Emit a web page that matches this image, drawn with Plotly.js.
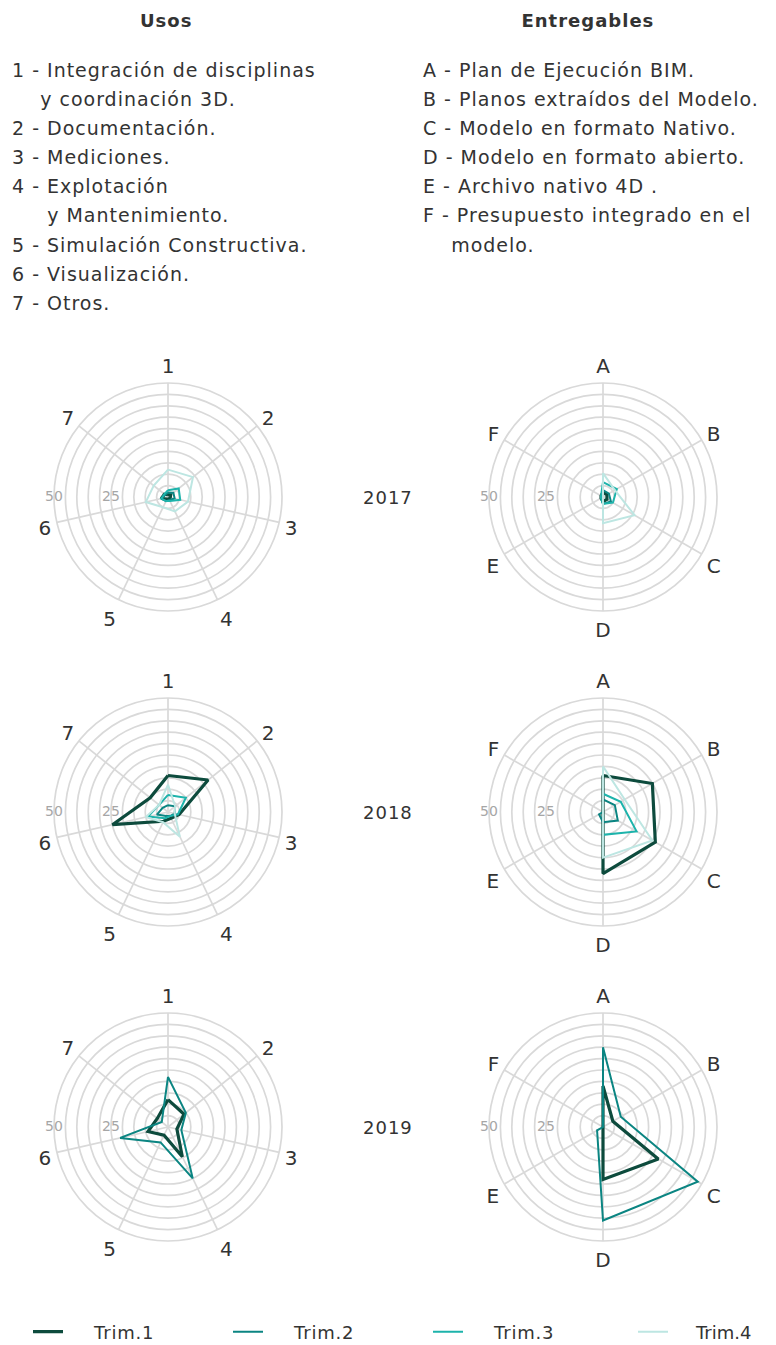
<!DOCTYPE html>
<html>
<head>
<meta charset="utf-8">
<script src="https://cdn.plot.ly/plotly-3.0.1.min.js"></script>
<style>
  html, body { margin: 0; padding: 0; background: #ffffff; }
  #chart { width: 776px; height: 1345px; }
  #chart .annotation-text { letter-spacing: 1px; }
  #chart .legendtext { letter-spacing: 0.8px; }
</style>
</head>
<body>
<div id="chart"></div>
<script>
// ---------- DATA ----------
const usosCats = ['1', '2', '3', '4', '5', '6', '7'];
const entCats = ['A', 'B', 'C', 'D', 'E', 'F'];
const series = ['Trim.1', 'Trim.2', 'Trim.3', 'Trim.4'];
const years = ['2017', '2018', '2019'];

// Usos (values 0-50)
const usos2017_t1 = [1, 1.5, 1, 1, 1, 3, 2];
const usos2017_t2 = [2, 3, 3, 1.5, 2, 3, 1.5];
const usos2017_t3 = [3, 6, 5.5, 2, 2, 3, 2];
const usos2017_t4 = [12, 14, 9, 7, 5, 10, 8];

const usos2018_t1 = [16, 22.5, 5, 3, 4.5, 25, 10];
const usos2018_t2 = [3, 4, 3, 2, 2, 5, 3];
const usos2018_t3 = [7.5, 10, 4.5, 2, 3, 9, 5];
const usos2018_t4 = [12, 4, 3, 12, 5, 10, 5];

const usos2019_t1 = [12, 9, 4, 14.5, 4, 9, 6];
const usos2019_t2 = [22, 10, 6, 25, 7.5, 21.5, 3.5];

// Entregables (values 0-50)
const ent2017_t1 = [2, 2, 2, 2, 1, 1];
const ent2017_t2 = [3, 3, 4, 3, 1, 1];
const ent2017_t3 = [6.5, 7, 5, 3, 1, 1];
const ent2017_t4 = [10.5, 6, 16, 11.5, 0, 0];

const ent2018_t1 = [16, 25, 26.5, 27, 0, 0];
const ent2018_t2 = [5.5, 6, 7.5, 4.5, 2, 0];
const ent2018_t3 = [8, 9, 17, 10, 0, 0];
const ent2018_t4 = [20, 11, 25, 20, 0, 0];

const ent2019_t1 = [18, 5, 28, 23, 0, 0];
const ent2019_t2 = [35, 9, 48, 41, 3, 0];

// radial scale: grid every 5, labels at 25 and 50
const radialGrid = [5, 10, 15, 20, 25, 30, 35, 40, 45, 50];
const radialLabelVals = [25, 50];
const radialLabelText = ['25', '50'];

const usosTitle = 'Usos';
const entTitle = 'Entregables';
const usosLines = [
  '1 - Integración de disciplinas',
  '    y coordinación 3D.',
  '2 - Documentación.',
  '3 - Mediciones.',
  '4 - Explotación',
  '     y Mantenimiento.',
  '5 - Simulación Constructiva.',
  '6 - Visualización.',
  '7 - Otros.'
];
const entLines = [
  'A - Plan de Ejecución BIM.',
  'B - Planos extraídos del Modelo.',
  'C - Modelo en formato Nativo.',
  'D - Modelo en formato abierto.',
  'E - Archivo nativo 4D .',
  'F - Presupuesto integrado en el',
  '    modelo.'
];

// ---------- STYLE ----------
const W = 776, H = 1345;
const FONT = '"DejaVu Sans", sans-serif';
const colors = ['#0d4b3d', '#0b8582', '#1db3ab', '#bde6e2'];
const widths = [3.2, 2, 2, 2];
const R = 114;
const colX = [168, 603];
const rowY = [497, 812, 1127];
const GRID = '#d9d9d9';

const usosData = [
  [usos2017_t1, usos2017_t2, usos2017_t3, usos2017_t4],
  [usos2018_t1, usos2018_t2, usos2018_t3, usos2018_t4],
  [usos2019_t1, usos2019_t2]
];
const entData = [
  [ent2017_t1, ent2017_t2, ent2017_t3, ent2017_t4],
  [ent2018_t1, ent2018_t2, ent2018_t3, ent2018_t4],
  [ent2019_t1, ent2019_t2]
];

const traces = [];
const legendX = 28;
const layout = {
  width: W, height: H,
  margin: {l: 0, r: 0, t: 0, b: 0, autoexpand: false},
  paper_bgcolor: '#ffffff',
  font: {family: FONT, color: '#333333', size: 18},
  showlegend: true,
  legend: {
    orientation: 'h', x: legendX / W, xanchor: 'left', y: 1 - 1332 / H, yanchor: 'middle',
    entrywidth: 155, entrywidthmode: 'pixels',
    font: {family: FONT, size: 18, color: '#333333'}
  },
  legend2: {
    orientation: 'h', x: (legendX + 605) / W, xanchor: 'left', y: 1 - 1332 / H, yanchor: 'middle',
    font: {family: FONT, size: 18, color: '#333333'}
  },
  annotations: []
};

function closeArr(a) { return a.concat([a[0]]); }

let pIndex = 0;
function nextPolar() {
  pIndex++;
  return pIndex === 1 ? 'polar' : 'polar' + pIndex;
}
function domainFor(cx, cy) {
  return {
    x: [(cx - R) / W, (cx + R) / W],
    y: [1 - (cy + R) / H, 1 - (cy - R) / H]
  };
}

function addPolar(cx, cy, cats, dataSets, first) {
  const name = nextPolar();
  layout[name] = {
    domain: domainFor(cx, cy),
    bgcolor: 'rgba(0,0,0,0)',
    radialaxis: {
      range: [0, 50], tickvals: radialGrid, showticklabels: false,
      showline: false, ticks: '',
      gridcolor: GRID, gridwidth: 1.7
    },
    angularaxis: {
      type: 'category', categoryarray: cats, direction: 'clockwise', rotation: 90,
      showline: true, linecolor: GRID, linewidth: 1.7,
      gridcolor: GRID, gridwidth: 1.7,
      ticks: 'outside', ticklen: 1, tickcolor: 'rgba(0,0,0,0)',
      tickfont: {family: FONT, size: 20, color: '#333333'}
    }
  };
  dataSets.forEach((vals, i) => {
    traces.push({
      type: 'scatterpolar', mode: 'lines',
      r: closeArr(vals), theta: closeArr(cats),
      subplot: name, name: '&nbsp;&nbsp;&nbsp;&nbsp;' + series[i], legendgroup: series[i],
      legend: i === 3 ? 'legend2' : 'legend',
      showlegend: first,
      line: {color: colors[i], width: widths[i]},
      hoverinfo: 'skip'
    });
  });

  // overlay subplot carrying the radial value labels (25, 50) on the left horizontal
  const lab = nextPolar();
  layout[lab] = {
    domain: domainFor(cx, cy),
    bgcolor: 'rgba(0,0,0,0)',
    radialaxis: {visible: false, range: [0, 50]},
    angularaxis: {visible: false, direction: 'clockwise', rotation: 90}
  };
  traces.push({
    type: 'scatterpolar', mode: 'text',
    r: radialLabelVals, theta: radialLabelVals.map(() => 270),
    text: radialLabelText, textposition: 'middle center',
    textfont: {family: FONT, size: 14, color: '#a6a6a6'},
    subplot: lab, showlegend: false, hoverinfo: 'skip', cliponaxis: false
  });
}

for (let row = 0; row < 3; row++) {
  addPolar(colX[0], rowY[row], usosCats, usosData[row], row === 0);
  addPolar(colX[1], rowY[row], entCats, entData[row], false);
  layout.annotations.push({
    xref: 'paper', yref: 'paper', x: 388 / W, y: 1 - rowY[row] / H,
    text: years[row], showarrow: false, xanchor: 'center', yanchor: 'middle',
    font: {family: FONT, size: 18, color: '#333333'}
  });
}

// Titles
layout.annotations.push({
  xref: 'paper', yref: 'paper', x: 166 / W, y: 1 - 20 / H, text: '<b>' + usosTitle + '</b>',
  showarrow: false, xanchor: 'center', yanchor: 'middle',
  font: {family: FONT, size: 18, color: '#333333'}
});
layout.annotations.push({
  xref: 'paper', yref: 'paper', x: 588 / W, y: 1 - 20 / H, text: '<b>' + entTitle + '</b>',
  showarrow: false, xanchor: 'center', yanchor: 'middle',
  font: {family: FONT, size: 18, color: '#333333'}
});

const lineGap = 29.1;
usosLines.forEach((t, i) => {
  layout.annotations.push({
    xref: 'paper', yref: 'paper', x: 10 / W, y: 1 - (70 + i * lineGap) / H,
    text: t.replace(/^ +/, m => '&nbsp;'.repeat(m.length)),
    showarrow: false, xanchor: 'left', yanchor: 'middle', align: 'left',
    font: {family: FONT, size: 19, color: '#333333'}
  });
});
entLines.forEach((t, i) => {
  layout.annotations.push({
    xref: 'paper', yref: 'paper', x: 421 / W, y: 1 - (70 + i * lineGap) / H,
    text: t.replace(/^ +/, m => '&nbsp;'.repeat(m.length)),
    showarrow: false, xanchor: 'left', yanchor: 'middle', align: 'left',
    font: {family: FONT, size: 19, color: '#333333'}
  });
});

Plotly.newPlot('chart', traces, layout, {displayModeBar: false, staticPlot: true});
</script>
</body>
</html>
